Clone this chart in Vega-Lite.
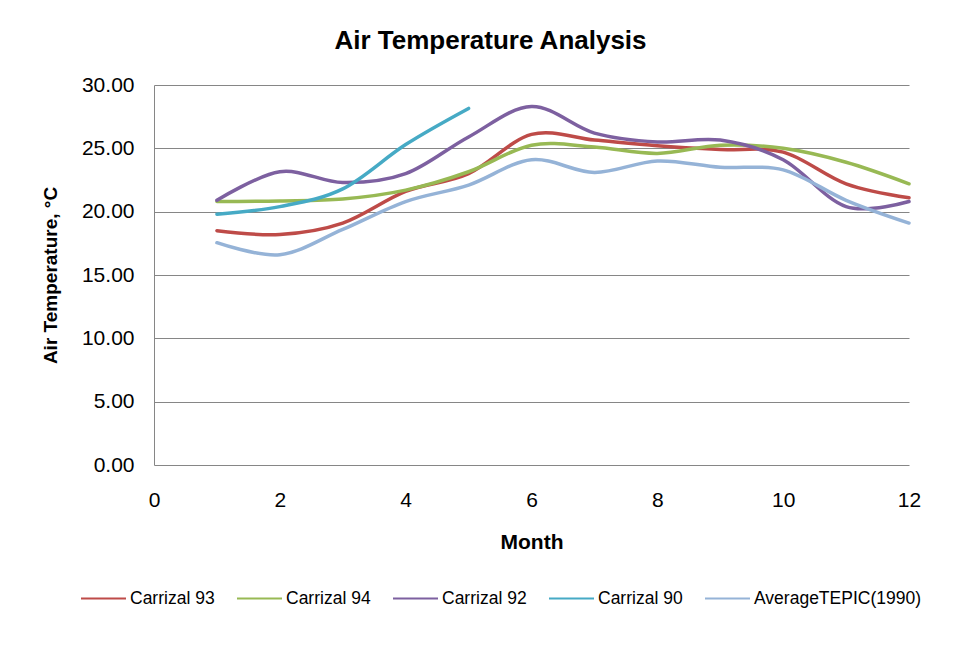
{
  "$schema": "https://vega.github.io/schema/vega-lite/v6.json",
  "width": 755,
  "height": 380,
  "padding": {"left": 41, "top": 28, "right": 40, "bottom": 20},
  "background": "white",
  "title": {"text": "Air Temperature Analysis", "font": "Liberation Sans", "fontSize": 26, "fontWeight": "bold", "color": "#000000", "offset": 20, "anchor": "middle", "dx": -41},
  "data": {"values": [
    {"month": 1, "series": "Carrizal 93", "temp": 18.5},
    {"month": 2, "series": "Carrizal 93", "temp": 18.2},
    {"month": 3, "series": "Carrizal 93", "temp": 19.1},
    {"month": 4, "series": "Carrizal 93", "temp": 21.6},
    {"month": 5, "series": "Carrizal 93", "temp": 23.0},
    {"month": 6, "series": "Carrizal 93", "temp": 26.1},
    {"month": 7, "series": "Carrizal 93", "temp": 25.65},
    {"month": 8, "series": "Carrizal 93", "temp": 25.2},
    {"month": 9, "series": "Carrizal 93", "temp": 24.9},
    {"month": 10, "series": "Carrizal 93", "temp": 24.7},
    {"month": 11, "series": "Carrizal 93", "temp": 22.2},
    {"month": 12, "series": "Carrizal 93", "temp": 21.1},
    {"month": 1, "series": "Carrizal 94", "temp": 20.8},
    {"month": 2, "series": "Carrizal 94", "temp": 20.85},
    {"month": 3, "series": "Carrizal 94", "temp": 21.0},
    {"month": 4, "series": "Carrizal 94", "temp": 21.7},
    {"month": 5, "series": "Carrizal 94", "temp": 23.15},
    {"month": 6, "series": "Carrizal 94", "temp": 25.25},
    {"month": 7, "series": "Carrizal 94", "temp": 25.1},
    {"month": 8, "series": "Carrizal 94", "temp": 24.6},
    {"month": 9, "series": "Carrizal 94", "temp": 25.25},
    {"month": 10, "series": "Carrizal 94", "temp": 25.0},
    {"month": 11, "series": "Carrizal 94", "temp": 23.9},
    {"month": 12, "series": "Carrizal 94", "temp": 22.2},
    {"month": 1, "series": "Carrizal 92", "temp": 20.9},
    {"month": 2, "series": "Carrizal 92", "temp": 23.15},
    {"month": 3, "series": "Carrizal 92", "temp": 22.3},
    {"month": 4, "series": "Carrizal 92", "temp": 23.0},
    {"month": 5, "series": "Carrizal 92", "temp": 25.9},
    {"month": 6, "series": "Carrizal 92", "temp": 28.3},
    {"month": 7, "series": "Carrizal 92", "temp": 26.2},
    {"month": 8, "series": "Carrizal 92", "temp": 25.5},
    {"month": 9, "series": "Carrizal 92", "temp": 25.65},
    {"month": 10, "series": "Carrizal 92", "temp": 24.1},
    {"month": 11, "series": "Carrizal 92", "temp": 20.4},
    {"month": 12, "series": "Carrizal 92", "temp": 20.8},
    {"month": 1, "series": "Carrizal 90", "temp": 19.8},
    {"month": 2, "series": "Carrizal 90", "temp": 20.4},
    {"month": 3, "series": "Carrizal 90", "temp": 21.8},
    {"month": 4, "series": "Carrizal 90", "temp": 25.3},
    {"month": 5, "series": "Carrizal 90", "temp": 28.15},
    {"month": 1, "series": "AverageTEPIC(1990)", "temp": 17.55},
    {"month": 2, "series": "AverageTEPIC(1990)", "temp": 16.6},
    {"month": 3, "series": "AverageTEPIC(1990)", "temp": 18.6},
    {"month": 4, "series": "AverageTEPIC(1990)", "temp": 20.8},
    {"month": 5, "series": "AverageTEPIC(1990)", "temp": 22.1},
    {"month": 6, "series": "AverageTEPIC(1990)", "temp": 24.1},
    {"month": 7, "series": "AverageTEPIC(1990)", "temp": 23.1},
    {"month": 8, "series": "AverageTEPIC(1990)", "temp": 24.0},
    {"month": 9, "series": "AverageTEPIC(1990)", "temp": 23.5},
    {"month": 10, "series": "AverageTEPIC(1990)", "temp": 23.3},
    {"month": 11, "series": "AverageTEPIC(1990)", "temp": 20.9},
    {"month": 12, "series": "AverageTEPIC(1990)", "temp": 19.1}
  ]},
  "mark": {"type": "line", "interpolate": "cardinal", "strokeWidth": 3.5, "strokeCap": "round"},
  "encoding": {
    "x": {"field": "month", "type": "quantitative", "title": "Month",
      "scale": {"domain": [0, 12], "nice": false, "zero": false},
      "axis": {"values": [0, 2, 4, 6, 8, 10, 12], "grid": false, "domain": false, "ticks": false, "labelPadding": 24, "titlePadding": 21, "titleFontSize": 21, "labelFlush": false}},
    "y": {"field": "temp", "type": "quantitative", "title": "Air Temperature, °C",
      "scale": {"domain": [0, 30], "nice": false},
      "axis": {"values": [0, 5, 10, 15, 20, 25, 30], "format": ".2f", "grid": true, "ticks": false, "domain": true, "labelPadding": 20, "titlePadding": 21, "titleFontSize": 19}},
    "color": {"field": "series", "type": "nominal",
      "scale": {"domain": ["Carrizal 93", "Carrizal 94", "Carrizal 92", "Carrizal 90", "AverageTEPIC(1990)"],
                "range": ["#BE4B48", "#98B954", "#7D60A0", "#46AAC5", "#95B3D7"]},
      "legend": {"title": null, "orient": "none", "direction": "horizontal", "legendX": -74, "legendY": 490,
        "symbolType": "stroke", "symbolSize": 2025, "symbolStrokeWidth": 2, "columnPadding": 18, "labelOffset": 3,
        "labelFont": "Liberation Sans", "labelFontSize": 17.5, "labelColor": "#000000", "labelLimit": 300}}
  },
  "config": {
    "view": {"stroke": null},
    "axis": {"labelFont": "Liberation Sans", "labelFontSize": 21, "labelColor": "#000000", "titleFont": "Liberation Sans", "titleFontWeight": "bold", "titleColor": "#000000", "gridColor": "#868686", "gridWidth": 1, "gridOpacity": 1, "domainColor": "#868686", "domainWidth": 1}
  }
}
